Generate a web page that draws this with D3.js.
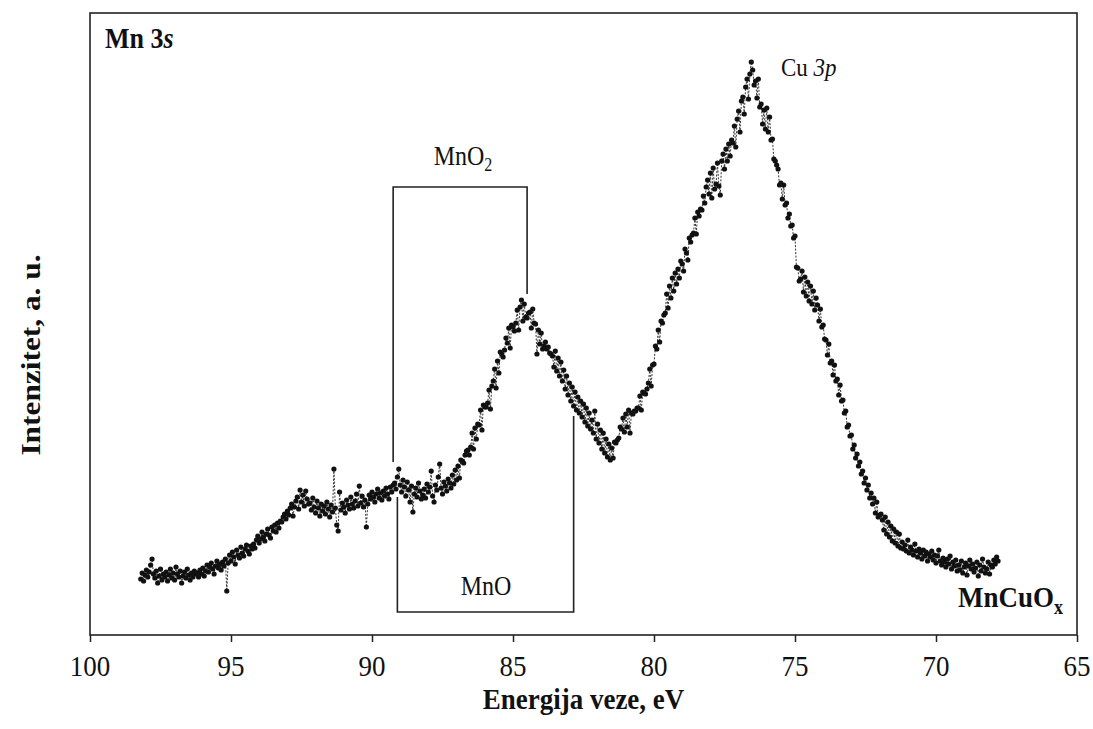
<!DOCTYPE html>
<html>
<head>
<meta charset="utf-8">
<script src="https://cdn.jsdelivr.net/npm/d3@7"></script>
<style>
  body { margin: 0; background: #fff; }
  text { font-family: "Liberation Serif", "Times New Roman", serif; fill: #111; }
</style>
</head>
<body>
<script>
// binding energy grid (eV), high -> low
var eStart = 98.2, eStep = 0.05;

// Mn 3s / Cu 3p spectrum, intensity in a.u. (one row = 1 eV)
var intensity = [
  56, 62, 54, 60, 65, 58, 63, 70, 76, 61, 57, 64, 52, 59, 66, 55, 61, 58, 63, 54,
  60, 66, 57, 62, 55, 68, 61, 58, 64, 52, 59, 63, 57, 66, 60, 55, 62, 58, 64, 61,
  62, 58, 65, 61, 67, 59, 64, 70, 63, 68, 72, 66, 61, 69, 74, 67, 71, 65, 73, 69,
  76, 44, 72, 80, 74, 83, 78, 71, 85, 80, 77, 88, 82, 79, 86, 90, 84, 81, 89, 86,
  91, 87, 95, 99, 92, 96, 103, 98, 94, 101, 106, 100, 97, 108, 104, 110, 103, 112, 107, 114,
  113, 118, 121, 116, 124, 120, 127, 131, 119, 128, 134, 138, 126, 145, 133, 140, 129, 144, 136, 131,
  132, 125, 137, 128, 122, 134, 127, 119, 131, 124, 129, 121, 133, 126, 118, 130, 123, 166, 127, 110,
  104, 143, 125, 132, 128, 122, 135, 130, 126, 138, 131, 127, 134, 141, 129, 149, 132, 139, 128, 135,
  108, 131, 140, 136, 143, 138, 133, 141, 146, 137, 142, 135, 144, 139, 147, 141, 136, 148, 143, 150,
  152, 146, 158, 166, 150, 143, 155, 148, 139, 153, 145, 133, 149, 123, 141, 147, 138, 152, 144, 136,
  140, 146, 137, 151, 143, 148, 164, 139, 133, 150, 145, 158, 171, 147, 141, 153, 149, 144, 156, 152,
  147, 160, 151, 165, 155, 169, 157, 175, 174, 172, 180, 184, 185, 180, 188, 202, 186, 207, 196, 211,
  210, 225, 205, 230, 228, 228, 232, 245, 226, 249, 254, 266, 247, 274, 262, 283, 281, 278, 285, 297,
  292, 307, 287, 310, 308, 304, 312, 325, 305, 328, 335, 314, 331, 318, 317, 322, 323, 307, 326, 312,
  311, 281, 305, 291, 302, 286, 289, 293, 286, 288, 282, 281, 279, 268, 284, 264, 277, 259, 273, 254,
  265, 246, 259, 240, 252, 234, 248, 229, 243, 225, 238, 222, 234, 218, 231, 213, 227, 209, 222, 206,
  215, 202, 224, 196, 211, 192, 205, 186, 202, 182, 196, 178, 191, 175, 187, 177, 193, 192, 195, 197,
  208, 206, 217, 203, 221, 208, 225, 202, 222, 221, 224, 224, 227, 227, 239, 225, 243, 242, 241, 246,
  252, 266, 249, 270, 271, 289, 286, 305, 293, 314, 312, 320, 322, 341, 327, 349, 337, 357, 344, 362,
  351, 366, 357, 374, 371, 364, 386, 382, 375, 397, 393, 400, 402, 417, 401, 423, 419, 426, 425, 439,
  432, 448, 455, 441, 462, 437, 467, 446, 451, 472, 449, 440, 474, 481, 466, 486, 474, 491, 479, 495,
  492, 509, 488, 516, 524, 503, 534, 538, 521, 548, 556, 536, 561, 573, 565, 550, 554, 537, 556, 528,
  531, 511, 525, 506, 527, 503, 518, 495, 496, 476, 474, 470, 466, 450, 452, 436, 450, 430, 432, 417,
  421, 409, 410, 397, 399, 368, 367, 354, 356, 364, 343, 358, 339, 353, 334, 349, 331, 344, 325, 337,
  330, 314, 326, 308, 310, 296, 295, 280, 291, 272, 274, 260, 270, 254, 256, 240, 250, 234, 235, 222,
  224, 208, 210, 199, 200, 186, 190, 177, 181, 169, 173, 161, 164, 152, 157, 145, 150, 137, 142, 131,
  137, 122, 133, 118, 120, 121, 115, 105, 118, 101, 113, 98, 109, 94, 106, 92, 103, 89, 101, 87,
  93, 86, 90, 84, 95, 82, 88, 85, 80, 91, 84, 78, 86, 82, 76, 85, 79, 83, 74, 81,
  78, 84, 75, 80, 72, 79, 85, 74, 70, 77, 73, 68, 76, 71, 79, 66, 73, 69, 75, 64,
  70, 65, 74, 62, 68, 72, 60, 69, 75, 66, 71, 63, 67, 73, 59, 70, 64, 76, 68, 62,
  66, 73, 61, 70, 68, 75, 71, 78, 74
];

var xTicks = [100, 95, 90, 85, 80, 75, 70, 65];

// bracket annotations [eV, a.u.]
var mno2Bracket = [[89.25, 173], [89.25, 448], [84.5, 448], [84.5, 341]];
var mnoBracket = [[89.1, 138], [89.1, 23], [82.85, 23], [82.85, 219]];

var width = 1093, height = 729;
var margin = {top: 13, right: 16, bottom: 94, left: 90};
var stretch = 1.12; // text in the original is a bit taller than wide

var data = intensity.map(function(v, i) {
  return {e: +(eStart - i * eStep).toFixed(2), v: v};
});

var svg = d3.select("body").append("svg")
    .attr("width", width)
    .attr("height", height);

var x = d3.scaleLinear()
    .domain([100, 65])
    .range([margin.left, width - margin.right]);

var y = d3.scaleLinear()
    .domain([0, 622])
    .range([height - margin.bottom, margin.top]);

function label(g, px, py, size, weight, anchor, rot) {
  var t = g.append("text")
      .attr("transform", "translate(" + px + "," + py + ")" +
            (rot ? " rotate(" + rot + ") scale(" + stretch + ",1)" : " scale(1," + stretch + ")"))
      .attr("font-size", size)
      .attr("font-weight", weight)
      .attr("text-anchor", anchor);
  return t;
}

// frame
svg.append("rect")
    .attr("x", margin.left)
    .attr("y", margin.top)
    .attr("width", width - margin.right - margin.left)
    .attr("height", height - margin.bottom - margin.top)
    .attr("fill", "none")
    .attr("stroke", "#222")
    .attr("stroke-width", 1.6);

// x axis
var xAxis = svg.append("g")
    .attr("transform", "translate(0," + (height - margin.bottom) + ")")
    .call(d3.axisBottom(x).tickValues(xTicks).tickSizeInner(7).tickSizeOuter(0).tickFormat(d3.format("d")));
xAxis.select(".domain").remove();
xAxis.selectAll(".tick line").attr("stroke", "#222").attr("stroke-width", 1.5);
xAxis.selectAll(".tick text").remove();

xTicks.forEach(function(t) {
  label(svg, x(t), 676, 27, "normal", "middle").text(t);
});

label(svg, (margin.left + width - margin.right) / 2, 709, 27, "bold", "middle")
    .text("Energija veze, eV");
label(svg, 40, 355, 28, "bold", "middle", -90)
    .text("Intenzitet, a. u.");

// spectrum
var line = d3.line()
    .x(function(d) { return x(d.e); })
    .y(function(d) { return y(d.v); });

svg.append("path")
    .datum(data)
    .attr("d", line)
    .attr("fill", "none")
    .attr("stroke", "#333")
    .attr("stroke-width", 1)
    .attr("stroke-dasharray", "2,1.5");

svg.append("g")
    .selectAll("circle")
    .data(data)
  .enter().append("circle")
    .attr("cx", function(d) { return x(d.e); })
    .attr("cy", function(d) { return y(d.v); })
    .attr("r", 2.6)
    .attr("fill", "#111");

// brackets
var bracket = d3.line()
    .x(function(d) { return x(d[0]); })
    .y(function(d) { return y(d[1]); });

[mno2Bracket, mnoBracket].forEach(function(b) {
  svg.append("path")
      .attr("d", bracket(b))
      .attr("fill", "none")
      .attr("stroke", "#222")
      .attr("stroke-width", 1.6);
});

// annotations
var t1 = label(svg, 463, 165, 24, "normal", "middle");
t1.append("tspan").text("MnO");
t1.append("tspan").attr("font-size", 16).attr("dy", 5).text("2");

label(svg, 486, 595, 24, "normal", "middle").text("MnO");

var t2 = label(svg, 781, 76, 23, "normal", "start");
t2.append("tspan").text("Cu ");
t2.append("tspan").attr("font-style", "italic").text("3p");

var t3 = label(svg, 105, 48, 26, "bold", "start");
t3.append("tspan").text("Mn 3");
t3.append("tspan").attr("font-style", "italic").text("s");

var t4 = label(svg, 1063, 607, 27, "bold", "end");
t4.append("tspan").text("MnCuO");
t4.append("tspan").attr("font-size", 18).attr("dy", 6).text("x");
</script>
</body>
</html>
